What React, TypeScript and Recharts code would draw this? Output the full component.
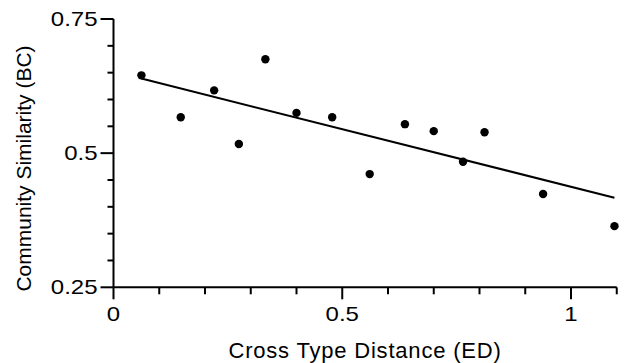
import React from 'react';
import { ScatterChart, Scatter, XAxis, YAxis, ReferenceLine, Label } from 'recharts';

const distance = [0.061, 0.147, 0.22, 0.274, 0.332, 0.4, 0.478, 0.56, 0.637, 0.7, 0.764, 0.811, 0.939, 1.095];
const similarity = [0.645, 0.567, 0.617, 0.517, 0.675, 0.575, 0.567, 0.461, 0.554, 0.541, 0.484, 0.539, 0.424, 0.364];

const fitX = [0.061, 1.095];
const fitY = [0.639, 0.417];

const xTicks = [0, 0.1, 0.2, 0.3, 0.4, 0.5, 0.6, 0.7, 0.8, 0.9, 1, 1.1];
const xMajor = [0, 0.5, 1];
const yTicks = [0.25, 0.3, 0.35, 0.4, 0.45, 0.5, 0.55, 0.6, 0.65, 0.7, 0.75];
const yMajor = [0.25, 0.5, 0.75];

const points = distance.map((d, i) => ({ x: d, y: similarity[i] }));
const fitSegment = fitX.map((x, i) => ({ x, y: fitY[i] }));

const FONT = '"Liberation Sans", Arial, Helvetica, sans-serif';

const isMajor = (list: number[], v: number) => list.some((m) => Math.abs(m - v) < 1e-6);

const XTick = (props: any) => {
  const { x, y, payload } = props;
  const major = isMajor(xMajor, payload.value);
  return (
    <g>
      <line x1={x} x2={x} y1={y} y2={y + (major ? 12 : 7)} stroke="#000" strokeWidth={2} />
      {major && (
        <text
          transform={`translate(${x},${y + 34}) scale(1.2,1)`}
          textAnchor="middle"
          fontSize={20}
          fontFamily={FONT}
          fill="#000"
        >
          {String(payload.value)}
        </text>
      )}
    </g>
  );
};

const YTick = (props: any) => {
  const { x, y, payload } = props;
  const major = isMajor(yMajor, payload.value);
  return (
    <g>
      <line x1={x - (major ? 13 : 6)} x2={x} y1={y} y2={y} stroke="#000" strokeWidth={2} />
      {major && (
        <text
          transform={`translate(${x - 16},${y + 6.5}) scale(1.2,1)`}
          textAnchor="end"
          fontSize={20}
          fontFamily={FONT}
          fill="#000"
        >
          {String(payload.value)}
        </text>
      )}
    </g>
  );
};

const Dot = (props: any) => <circle cx={props.cx} cy={props.cy} r={4.2} fill="#000" />;

const App = () => {
  return (
    <div style={{ position: 'absolute', left: 0, top: 0, width: 628, height: 363, background: '#fff' }}>
      <ScatterChart width={628} height={363} margin={{ top: 19, right: 11.25, bottom: 0, left: 0 }}>
        <XAxis
          type="number"
          dataKey="x"
          domain={[0, 1.1]}
          ticks={xTicks}
          interval={0}
          height={75.7}
          tickSize={0}
          tickMargin={0}
          tickLine={false}
          tick={<XTick />}
          axisLine={{ stroke: '#000', strokeWidth: 2 }}
        >
          <Label
            content={() => (
              <text x={365} y={357.5} textAnchor="middle" fontSize={22} fontFamily={FONT} letterSpacing={0.8} fill="#000">
                Cross Type Distance (ED)
              </text>
            )}
          />
        </XAxis>
        <YAxis
          type="number"
          dataKey="y"
          domain={[0.25, 0.75]}
          ticks={yTicks}
          interval={0}
          width={113.5}
          tickSize={0}
          tickMargin={0}
          tickLine={false}
          tick={<YTick />}
          axisLine={{ stroke: '#000', strokeWidth: 2 }}
        >
          <Label
            content={() => (
              <text
                transform="translate(30.5,168.5) rotate(-90)"
                textAnchor="middle"
                fontSize={21}
                fontFamily={FONT}
                fill="#000"
              >
                Community Similarity (BC)
              </text>
            )}
          />
        </YAxis>
        <ReferenceLine
          segment={fitSegment}
          stroke="#000"
          strokeWidth={2}
          ifOverflow="visible"
        />
        <Scatter data={points} shape={<Dot />} isAnimationActive={false} />
      </ScatterChart>
    </div>
  );
};

export default App;
